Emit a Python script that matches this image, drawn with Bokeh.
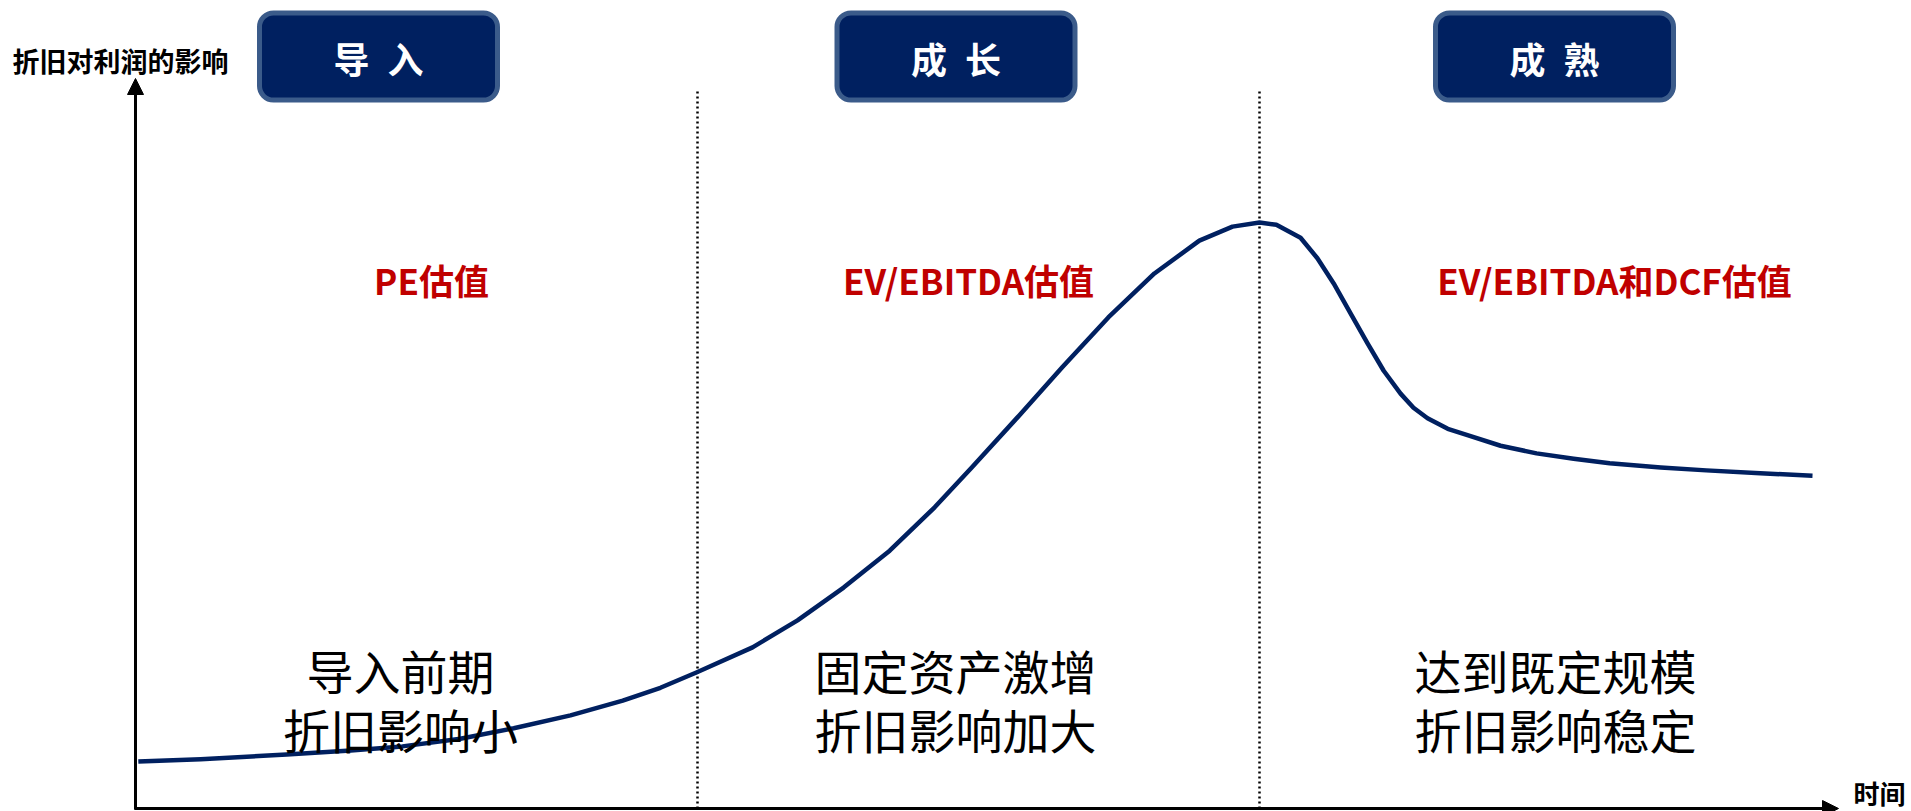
from bokeh.plotting import figure
from bokeh.models import Range1d, Arrow, NormalHead, BoxAnnotation, Label
from bokeh.core.properties import value
from bokeh.embed import file_html
from bokeh.resources import INLINE

# ---------------- data ----------------
stage_names = ["导\u2002入", "成\u2002长", "成\u2002熟"]
valuation_labels = ["PE估值", "EV/EBITDA估值", "EV/EBITDA和DCF估值"]
notes_line1 = ["导入前期", "固定资产激增", "达到既定规模"]
notes_line2 = ["折旧影响小", "折旧影响加大", "折旧影响稳定"]
stage_bounds = [1, 2]
y_axis_title = "折旧对利润的影响"
x_axis_title = "时间"

# depreciation impact curve (time in stage units, impact with peak = 100)
time = [0.005, 0.116, 0.269, 0.383, 0.475, 0.578, 0.673, 0.774, 0.867, 0.934,
        0.998, 1.098, 1.178, 1.260, 1.342, 1.422, 1.488, 1.569, 1.649, 1.731,
        1.813, 1.893, 1.952, 2.000, 2.030, 2.073, 2.103, 2.132, 2.162, 2.192,
        2.221, 2.251, 2.274, 2.299, 2.335, 2.370, 2.429, 2.493, 2.559, 2.623,
        2.714, 2.795, 2.891, 2.984]
impact = [8.0, 8.4, 9.2, 9.9, 10.6, 11.9, 13.7, 15.9, 18.4, 20.6,
          23.2, 27.5, 32.1, 37.7, 44.0, 51.4, 58.2, 66.7, 75.3, 83.8,
          91.3, 96.9, 99.3, 100.0, 99.6, 97.4, 93.9, 89.6, 84.5, 79.4,
          74.7, 70.8, 68.4, 66.6, 64.8, 63.7, 61.9, 60.6, 59.7, 58.9,
          58.2, 57.7, 57.2, 56.8]

# ---------------- layout helpers ----------------
W, H = 1911, 811
X0, Y0 = 135, 808          # pixel position of the origin
PX_T, PX_V = 562.0, 5.86   # pixels per unit


def tx(px):
    return (px - X0) / PX_T


def vy(py):
    return (Y0 - py) / PX_V


FONT_NAME = "Noto Sans CJK SC"
FONT = value(FONT_NAME)
NAVY = "#002060"

p = figure(width=W, height=H, output_backend="svg", toolbar_location=None,
           x_range=Range1d(tx(0), tx(W)), y_range=Range1d(vy(H), vy(0)),
           x_axis_location=None, y_axis_location=None, min_border=0)
p.grid.visible = False
p.outline_line_color = None
p.background_fill_color = "white"
p.border_fill_color = "white"

# stage boxes
box_centers_px = [378, 955.5, 1554]
for c in box_centers_px:
    p.add_layout(BoxAnnotation(left=tx(c - 119), right=tx(c + 119),
                               top=vy(12.5), bottom=vy(99.5),
                               fill_color=NAVY, fill_alpha=1.0,
                               line_color="#3b5b8a", line_alpha=1.0, line_width=5,
                               border_radius=14, level="underlay"))
p.text(x=[tx(c) for c in box_centers_px], y=[vy(57)] * 3, text=stage_names,
       text_font=FONT, text_font_size="36px", text_font_style="bold",
       text_color="white", text_align="center", text_baseline="middle")

# dotted stage separators
p.segment(x0=stage_bounds, y0=[0] * 2, x1=stage_bounds, y1=[vy(91)] * 2,
          line_color="black", line_width=2.5, line_dash="2 3")

# curve
p.line(time, impact, line_color=NAVY, line_width=4.5, line_join="round")

# axes with arrows
p.add_layout(Arrow(end=NormalHead(size=16, fill_color="black", line_color="black"),
                   x_start=0, y_start=vy(809), x_end=0, y_end=vy(78),
                   line_color="black", line_width=3))
p.add_layout(Arrow(end=NormalHead(size=16, fill_color="black", line_color="black"),
                   x_start=tx(134), y_start=0, x_end=tx(1838), y_end=0,
                   line_color="black", line_width=3))

p.add_layout(Label(x=tx(12), y=vy(60), text=y_axis_title, text_font=FONT_NAME,
                   text_font_size="27px", text_font_style="bold",
                   text_color="black", text_align="left", text_baseline="middle"))
p.add_layout(Label(x=tx(1853), y=vy(810), text=x_axis_title, text_font=FONT_NAME,
                   text_font_size="26px", text_font_style="bold",
                   text_color="black", text_align="left", text_baseline="bottom"))

# valuation labels
val_x_px = [431, 968, 1614]
p.text(x=[tx(c) for c in val_x_px], y=[vy(279)] * 3, text=valuation_labels,
       text_font=FONT, text_font_size="35px", text_font_style="bold",
       text_color="#c00000", text_align="center", text_baseline="middle")

# notes
note_x_px = [400, 955, 1555]
p.text(x=[tx(c) for c in note_x_px], y=[vy(669)] * 3, text=notes_line1,
       text_font=FONT, text_font_size="47px", text_color="black",
       text_align="center", text_baseline="middle")
p.text(x=[tx(c) for c in note_x_px], y=[vy(728)] * 3, text=notes_line2,
       text_font=FONT, text_font_size="47px", text_color="black",
       text_align="center", text_baseline="middle")

open("out.html", "w").write(file_html(p, INLINE))
